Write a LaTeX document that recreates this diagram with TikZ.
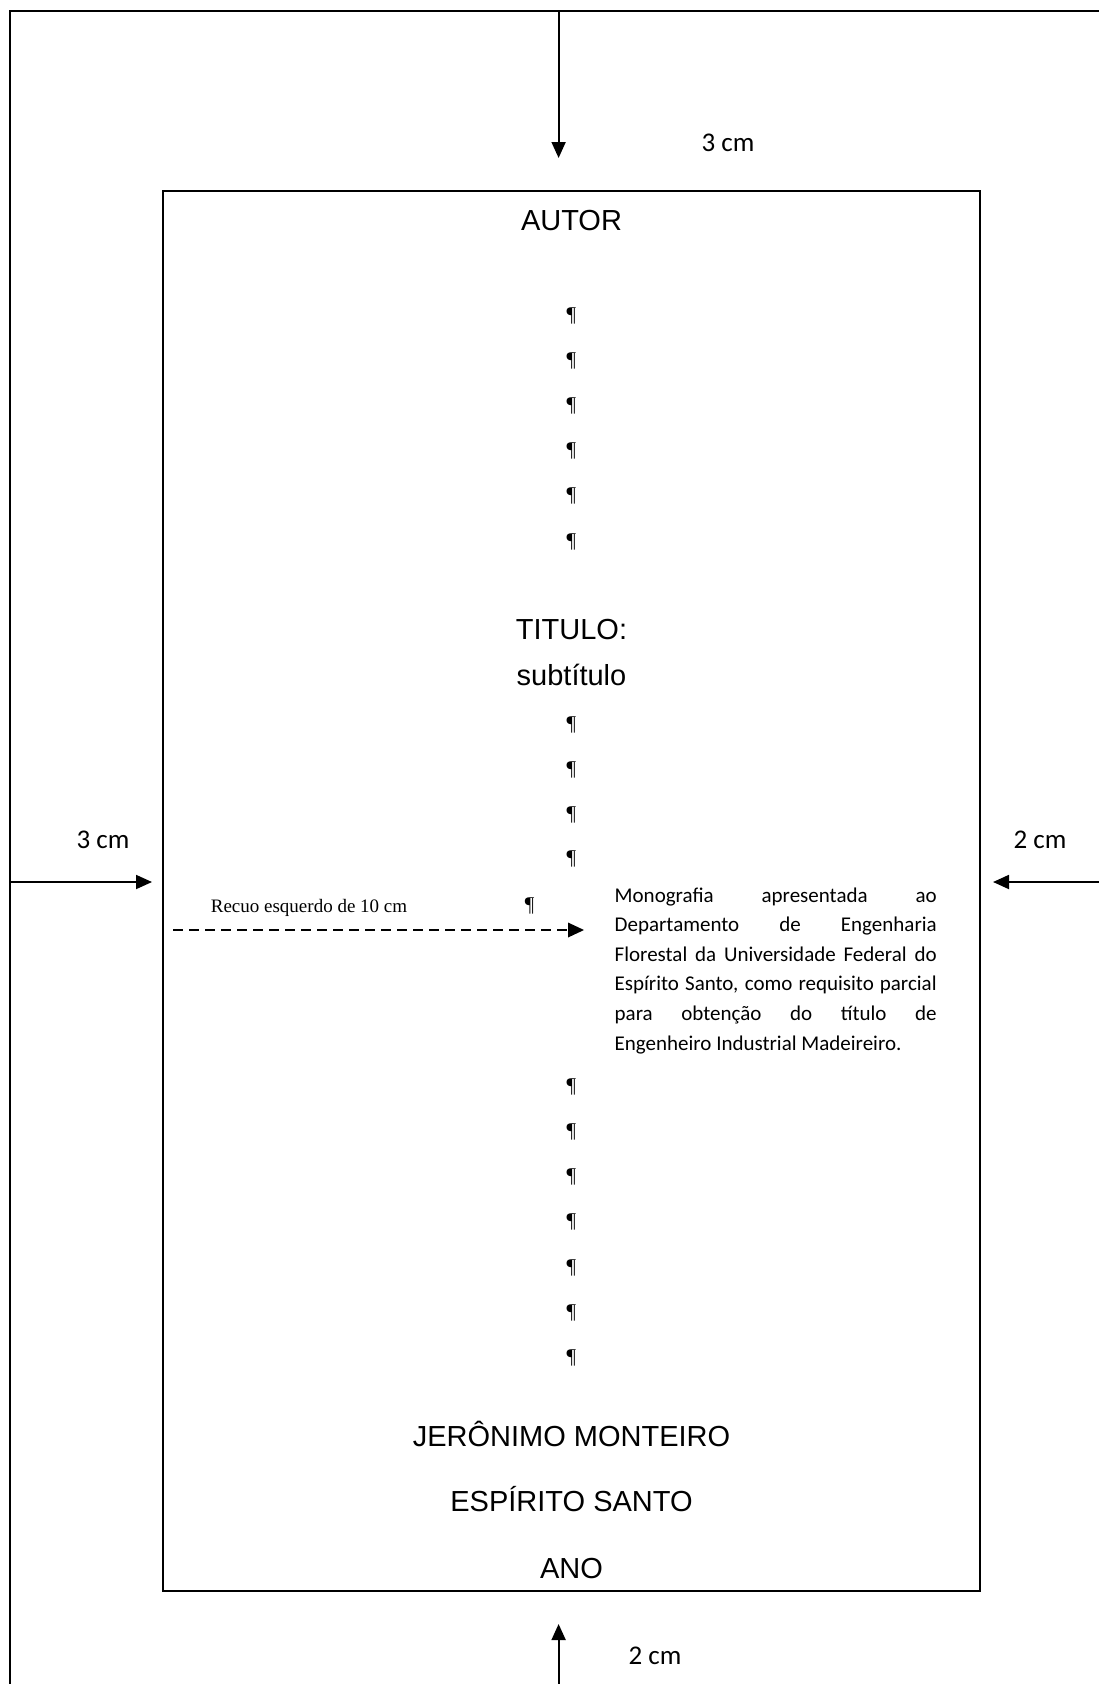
\documentclass[tikz,border=0pt]{standalone}
\usepackage{fontspec}
\setmainfont{Liberation Sans}
\newfontfamily\calib{Carlito}
\newfontfamily\tnr{Liberation Serif}
\usetikzlibrary{arrows.meta}
\begin{document}
\begin{tikzpicture}[x=1pt,y=-1pt,
  frame/.style={line width=1.8pt},
  arr/.style={line width=1.8pt,-{Triangle[length=16pt,width=14pt]}},
  dasharr/.style={line width=2.8pt,dash pattern=on 9.5pt off 6.5pt,-{Triangle[length=16pt,width=15pt,line width=0pt]}},
  big/.style={font=\fontsize{29}{34}\selectfont,inner sep=0pt,anchor=base},
  cmlab/.style={font=\calib\fontsize{27}{32}\selectfont,inner sep=0pt,anchor=base},
  pil/.style={font=\tnr\fontsize{21}{24}\selectfont,inner sep=0pt,anchor=base},
  rec/.style={font=\tnr\fontsize{19}{22}\selectfont,inner sep=0pt,anchor=base},
  para/.style={font=\calib\fontsize{21}{29.6}\selectfont,inner sep=0pt,text width=322pt,align=justify,anchor=base west}]
\useasboundingbox (0,0) rectangle (1099,1684);
\fill[white] (0,0) rectangle (1099,1684);
\begin{scope}
\clip (0,0) rectangle (1099,1684);
\draw[frame] (1120,10.7) -- (9.7,10.7) -- (9.7,1700);
\end{scope}
% inner page
\draw[frame] (163.3,191.2) rectangle (979.8,1591);
% margin arrows
\coordinate (tA) at (558.6,10.7);
\coordinate (tB) at (558.6,158);
\draw[arr] (tA) -- (tB);
\node[cmlab] (ltop) at (728,151) {3 cm};
\coordinate (lA) at (9.7,882);
\coordinate (lB) at (152,882);
\draw[arr] (lA) -- (lB);
\node[cmlab] (lleft) at (103,848) {3 cm};
\coordinate (rA) at (1099,882);
\coordinate (rB) at (993,882);
\draw[arr] (rA) -- (rB);
\node[cmlab] (lright) at (1040,848) {2 cm};
\coordinate (bA) at (558.6,1684);
\coordinate (bB) at (558.6,1624);
\draw[arr] (bA) -- (bB);
\node[cmlab] (lbot) at (655,1664) {2 cm};
% texts
\node[big] (autor) at (571.5,230.5) {AUTOR};
\foreach \i/\y in {1/316,2/361,3/406,4/451,5/496,6/542}
  \node[pil] (p\i) at (571.5,\y+5) {¶};
\node[big] (titulo) at (571.5,639) {TITULO:};
\node[big] (sub) at (571.5,685) {subtítulo};
\foreach \i/\y in {7/725,8/770,9/815,10/859}
  \node[pil] (p\i) at (571.5,\y+5) {¶};
\node[rec] (recuo) at (309,912) {Recuo esquerdo de 10 cm};
\node[pil] (p11) at (529.6,911) {¶};
\coordinate (dA) at (173,930);
\coordinate (dB) at (584,930);
\draw[dasharr] (dA) -- (dB);
\node[para] (mono) at (614.5,902) {Monografia apresentada ao\linebreak Departamento de Engenharia\linebreak Florestal da Universidade Federal do\linebreak Espírito Santo, como requisito parcial\linebreak para obtenção do título de\linebreak Engenheiro Industrial Madeireiro.};
\foreach \i/\y in {12/1087,13/1132,14/1177,15/1222.5,16/1268,17/1313,18/1358}
  \node[pil] (p\i) at (571.5,\y+5) {¶};
\node[big] (cidade) at (571.5,1446.5) {JERÔNIMO MONTEIRO};
\node[big] (estado) at (571.5,1511.5) {ESPÍRITO SANTO};
\node[big] (ano) at (571.5,1578) {ANO};
\end{tikzpicture}
\end{document}
